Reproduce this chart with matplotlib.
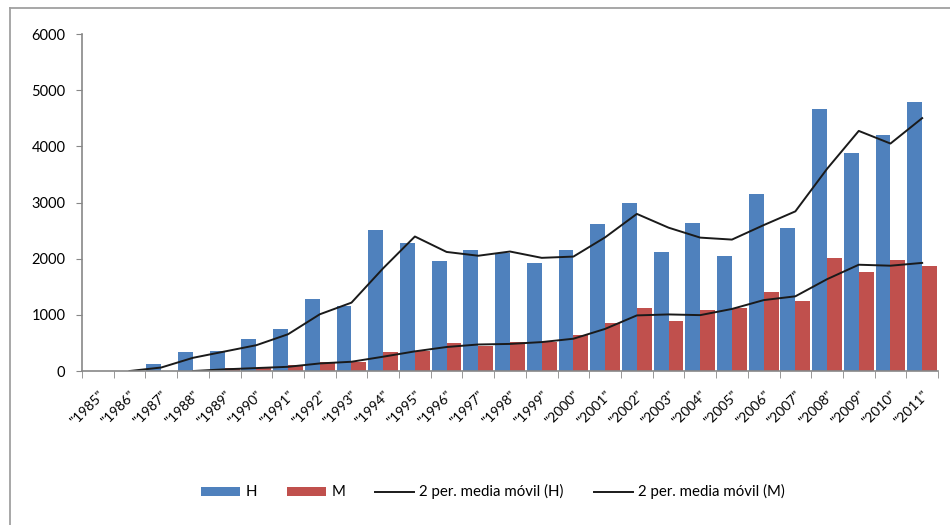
import numpy as np
import pandas as pd
import matplotlib
matplotlib.use("Agg")
import matplotlib.pyplot as plt
from matplotlib.lines import Line2D

plt.rcParams["font.family"] = ["Lato", "DejaVu Sans"]

years = [str(y) for y in range(1985, 2012)]
h_values = [0, 0, 125, 345, 350, 570, 740, 1280, 1155, 2505, 2285, 1955, 2150,
            2105, 1925, 2150, 2610, 2985, 2120, 2630, 2050, 3145, 2540, 4660,
            3890, 4210, 4795]
m_values = [np.nan, np.nan, 0, 0, 60, 45, 105, 165, 165, 345, 355, 500, 445,
            520, 510, 640, 860, 1120, 895, 1095, 1115, 1410, 1250, 2020,
            1765, 1985, 1865]

df = pd.DataFrame({"H": h_values, "M": m_values}, index=years)
ma_h = df["H"].rolling(2).mean()
ma_m = df["M"].rolling(2).mean()

blue = "#4F81BD"
red = "#C0504D"
grey = "#878787"

fig = plt.figure(figsize=(9.5, 5.25), dpi=100)
ax = fig.add_axes([0.0863, 0.2933, 0.9011, 0.6419])

x = np.arange(len(years))
w = 0.47
b1 = ax.bar(x - w / 2, df["H"], width=w, color=blue, label="H")
b2 = ax.bar(x + w / 2, df["M"], width=w, color=red, label="M")
l1, = ax.plot(x, ma_h, color="#1a1a1a", lw=1.4, label="2 per. media móvil (H)")
l2, = ax.plot(x, ma_m, color="#1a1a1a", lw=1.4, label="2 per. media móvil (M)")

ax.set_xlim(-0.5, len(years) - 0.5)
ax.set_ylim(0, 6000)
ax.set_yticks(range(0, 6001, 1000))
ax.tick_params(axis="y", direction="out", length=4, color=grey, labelsize=10.5, pad=8)

ax.set_xticks(x)
ax.set_xticklabels(['"%s"' % y for y in years], rotation=45, ha="right",
                   va="top", rotation_mode="anchor", fontsize=10)
ax.tick_params(axis="x", length=0, pad=13)
ax.set_xticks(np.arange(-0.5, len(years), 1), minor=True)
ax.tick_params(axis="x", which="minor", direction="out", length=5, color=grey)

for side in ("top", "right"):
    ax.spines[side].set_visible(False)
for side in ("left", "bottom"):
    ax.spines[side].set_color(grey)
    ax.spines[side].set_linewidth(1.2)

fig.legend(handles=[b1, b2, l1, l2], loc="center", bbox_to_anchor=(0.519, 0.063),
           ncol=4, frameon=False, fontsize=10.8, handlelength=2.6,
           handleheight=0.55, columnspacing=2.0, handletextpad=0.35)

# chart frame (only top and left edges are visible in the crop)
fig.add_artist(Line2D([10 / 950, 1], [1 - 8 / 525, 1 - 8 / 525],
                      transform=fig.transFigure, color="#a0a0a0", lw=1.3))
fig.add_artist(Line2D([10 / 950, 10 / 950], [0, 1 - 8 / 525],
                      transform=fig.transFigure, color="#a0a0a0", lw=1.3))

fig.savefig("out.png", dpi=100)
